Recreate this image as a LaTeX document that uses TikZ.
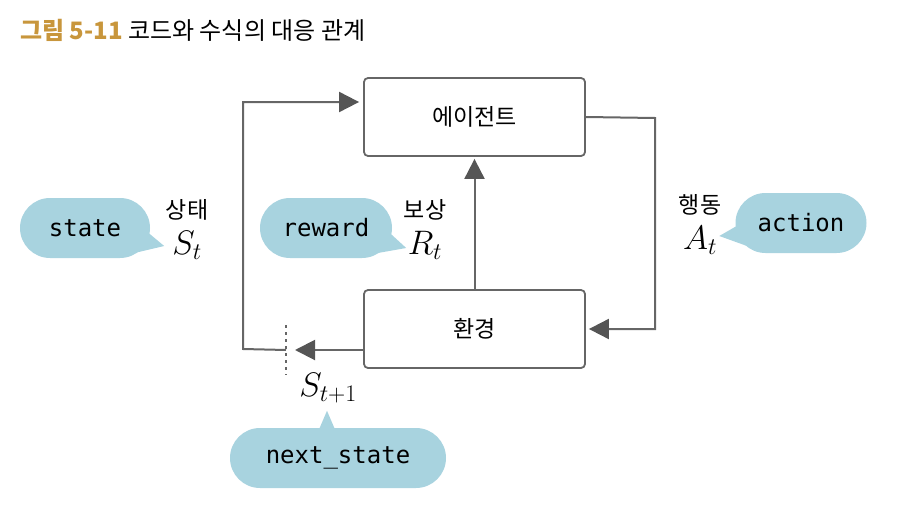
\RequirePackage{fix-cm}
\documentclass[tikz,border=0pt]{standalone}
\usepackage{fontspec}
\usepackage{xcolor}
\usepackage{tikz}
\usetikzlibrary{arrows.meta,positioning,calc}
\newfontfamily\kor{Noto Sans CJK KR}
\setmonofont{DejaVu Sans Mono}
\definecolor{bubblecol}{HTML}{A8D3DF}
\definecolor{linecol}{HTML}{666666}
\definecolor{tipcol}{HTML}{555555}
\definecolor{titlecol}{HTML}{C8963C}
\tikzset{
  box/.style={rectangle, draw=linecol, line width=1.8pt, rounded corners=4pt,
    minimum width=221pt, minimum height=78pt, font=\kor\fontsize{23}{25}\selectfont},
  link/.style={draw=linecol, line width=2pt, -{Triangle[length=20pt,width=20pt,color=tipcol]}},
  bubble/.style={rectangle, fill=bubblecol, rounded corners=30pt, minimum height=60pt,
    font=\ttfamily\fontsize{24}{26}\selectfont},
  lab/.style={font=\kor\fontsize{23}{25}\selectfont},
  sym/.style={font=\fontsize{34}{36}\selectfont}
}
\begin{document}
\begin{tikzpicture}[x=1pt,y=-1pt]
\useasboundingbox (0,0) rectangle (897,514);
% title
\node[anchor=west, inner sep=0pt] (title) at (20,30)
  {\kor\fontsize{24}{26}\selectfont{\bfseries\color{titlecol}그림 5-11}\ 코드와 수식의 대응 관계};

% agent and environment
\node[box] (agent) at (474.5,117) {에이전트};
\node[box] (env) at (474.5,329) {환경};

\coordinate (cut) at (286,350);
\coordinate (loopin) at ($(agent.west)+(0,-15)$);
\coordinate (turn) at (655,118);

\draw[link, shorten >=3pt] (agent.east) -- (turn) |- (env.east);
\draw[link, shorten >=2pt] (env.north) -- (agent.south);
\draw[link, shorten >=9pt] (env.west |- cut) -- (cut);
\draw[link, shorten >=4pt] (cut) -- ++(-43,-1) |- (loopin);
\draw[linecol, line width=2pt, dash pattern=on 3pt off 4pt] ($(cut)+(0,-25)$) -- ($(cut)+(0,25)$);

% symbols
\node[lab] (statelab) at (187,210) {상태};
\node[sym] (st) at (187,245) {$S_t$};
\node[lab] (rewardlab) at (425,210) {보상};
\node[sym] (rt) at (425,245) {$R_t$};
\node[lab] (actionlab) at (700,205) {행동};
\node[sym] (at) at (700,240) {$A_t$};
\node[sym] (snext) at (328,388) {$S_{t+1}$};

% code names
\node[bubble, minimum width=130pt] (state) at (85,228) {state};
\fill[bubblecol] ($(state.east)+(-10,-2)$) -- ($(state.east)+(14,18)$) -- ($(state.east)+(-20,26)$) -- cycle;
\node[bubble, minimum width=132pt] (reward) at (326,228) {reward};
\fill[bubblecol] ($(reward.east)+(-10,-2)$) -- ($(reward.east)+(14,20)$) -- ($(reward.east)+(-20,26)$) -- cycle;
\node[bubble, minimum width=131pt] (action) at (801,223) {action};
\fill[bubblecol] ($(action.west)+(10,-2)$) -- ($(action.west)+(-16,13)$) -- ($(action.west)+(20,26)$) -- cycle;
\node[bubble, minimum width=216pt] (nextstate) at (338,458) {next\_state};
\fill[bubblecol] ($(nextstate.north)+(-20,4)$) -- ($(nextstate.north)+(-11,-17)$) -- ($(nextstate.north)+(-2,4)$) -- cycle;
\end{tikzpicture}
\end{document}
